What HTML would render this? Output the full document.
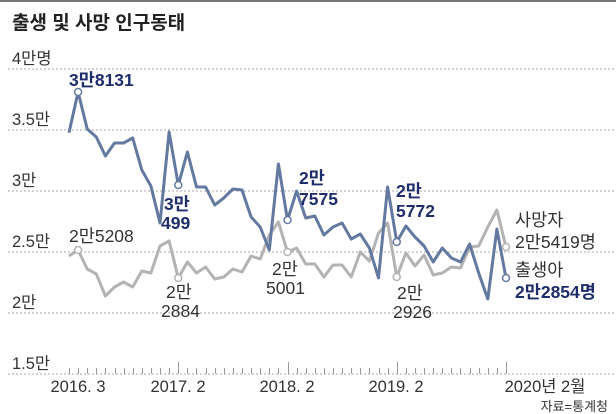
<!DOCTYPE html>
<html><head><meta charset="utf-8"><style>
body{margin:0;background:#fff;}
svg{display:block;font-family:"Liberation Sans","Noto Sans CJK KR",sans-serif;}
</style></head><body>
<svg width="616" height="414" viewBox="0 0 616 414" xmlns="http://www.w3.org/2000/svg">
<rect x="0" y="0" width="616" height="2" fill="#777"/>
<text x="12" y="29" font-size="19" font-weight="bold" fill="#222">출생 및 사망 인구동태</text>
<g stroke="#aaa" stroke-width="1" stroke-dasharray="2,2">
<line x1="8" y1="69" x2="616" y2="69"/><line x1="8" y1="130" x2="616" y2="130"/>
<line x1="8" y1="191" x2="616" y2="191"/><line x1="8" y1="252" x2="616" y2="252"/>
<line x1="8" y1="313" x2="616" y2="313"/><line x1="8" y1="374" x2="616" y2="374"/>
</g>
<g font-size="16.5" fill="#333">
<text x="12" y="64">4만명</text><text x="12" y="125">3.5만</text><text x="12" y="186">3만</text>
<text x="12" y="247">2.5만</text><text x="12" y="308">2만</text><text x="12" y="369">1.5만</text>
</g>
<g id="ticks" stroke="#999" stroke-width="1"></g>
<g font-size="16.5" fill="#333" text-anchor="middle">
<text x="78" y="392">2016. 3</text><text x="178" y="392">2017. 2</text><text x="287" y="392">2018. 2</text>
<text x="396" y="392">2019. 2</text><text x="545" y="392">2020년 2월</text>
</g>
<text x="608" y="411" font-size="13" fill="#333" text-anchor="end">자료=통계청</text>
<polyline id="gray" fill="none" stroke="#b3b3b3" stroke-width="3" stroke-linejoin="round"/>
<polyline id="blue" fill="none" stroke="#6479a0" stroke-width="3" stroke-linejoin="round"/>
<g id="marks" fill="#fff" stroke-width="1.5"></g>
<g font-size="17.5" fill="#1f2d6b" font-weight="bold">
<text x="69" y="86">3만8131</text>
<text x="164" y="210">3만</text><text x="161" y="229">499</text>
<text x="299" y="184">2만</text><text x="299" y="205">7575</text>
<text x="396" y="197">2만</text><text x="396" y="217">5772</text>
<text x="515" y="298">2만2854명</text>
</g>
<g font-size="17.5" fill="#333">
<text x="69" y="242">2만5208</text>
<text x="166" y="298">2만</text><text x="161" y="317">2884</text>
<text x="272" y="275">2만</text><text x="266" y="294">5001</text>
<text x="397" y="299">2만</text><text x="393" y="318">2926</text>
<text x="515" y="226">사망자</text><text x="515" y="248">2만5419명</text>
<text x="515" y="276">출생아</text>
</g>
<script>
var B=[132.7,92,129,137,156,143,143,138,170,186,223,132,185,152,187,187,205,198,189,190,217,227,250,164,220,191,218,216,235,227,223,239,234,248,278,187,242,226,237,246,262,248,258,262,244,273,299,229,278];
var G=[256,250,269,274,296,287,282,287,271,273,246,241,278,262,273,267,279,277,269,272,256,259,235,222,252,248,264,264,277,265,265,277,252,261,233,223,277,253,266,255,275,273,267,268,247,246,227,210,247];
function X(i){return 69+i*(437/48);}
function pts(a){return a.map(function(v,i){return X(i).toFixed(1)+","+v}).join(" ");}
document.getElementById("blue").setAttribute("points",pts(B));
document.getElementById("gray").setAttribute("points",pts(G));
var ns="http://www.w3.org/2000/svg";
var tk=document.getElementById("ticks");
for(var i=0;i<=48;i++){var l=document.createElementNS(ns,"line");var x=Math.round(X(i))+0.5;var maj=(i%12==0&&i>0);
l.setAttribute("x1",x);l.setAttribute("x2",x);l.setAttribute("y1",374);l.setAttribute("y2",maj?362:368);tk.appendChild(l);}
var mk=document.getElementById("marks");
[1,12,24,36,48].forEach(function(i){
[[B,"#6479a0"],[G,"#b3b3b3"]].forEach(function(p){var c=document.createElementNS(ns,"circle");
c.setAttribute("cx",X(i));c.setAttribute("cy",p[0][i]);c.setAttribute("r",3.5);c.setAttribute("stroke",p[1]);mk.appendChild(c);});
});
</script>
</svg>
</body></html>
